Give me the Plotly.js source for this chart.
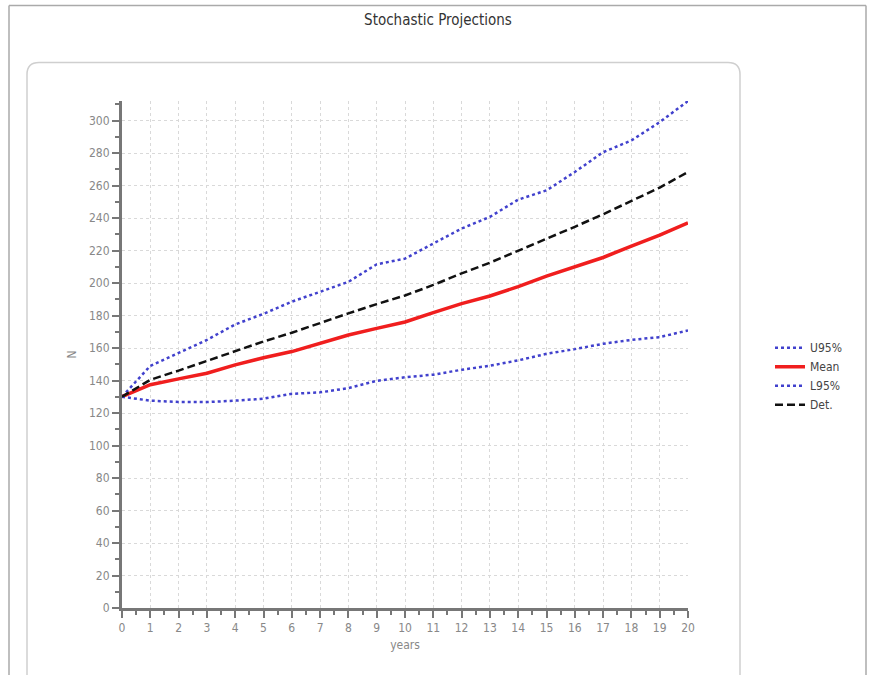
<!DOCTYPE html>
<html>
<head>
<meta charset="utf-8">
<script src="https://cdn.plot.ly/plotly-3.0.1.min.js"></script>
<style>
html,body{margin:0;padding:0;background:#fff;}
#chart{width:872px;height:675px;}
</style>
</head>
<body>
<div id="chart"></div>
<script>
var years = [0,1,2,3,4,5,6,7,8,9,10,11,12,13,14,15,16,17,18,19,20];
var u95  = [130,149,157,165,174.5,181,188.5,194.5,200.7,211.5,215,224.3,233.5,240.7,251.3,257,268.3,280.5,287.7,299,312];
var mean = [130,137.4,141,144.5,149.6,154,157.8,162.8,168,172.1,176,181.8,187.3,192,197.8,204.2,210,215.7,222.7,229.4,237];
var l95  = [130,127.6,126.8,126.7,127.6,128.8,131.8,132.7,135.3,139.8,142,143.6,146.6,149.1,152.4,156.4,159.3,162.6,165,166.7,170.8];
var det  = [130,140.4,146.1,152,158.3,164,169.4,175.5,181.3,187,192.3,198.8,205.9,212.5,219.8,227.3,234.6,242.3,250.3,258.7,268.3];

var FONT = '"DejaVu Sans Condensed", "Liberation Sans Narrow", "Open Sans", sans-serif';
var W = 872, H = 675;
var L = 122, R = 688, T = 100.5, B = 608;
function px(x){ return (x - L) / (R - L); }
function py(y){ return (B - y) / (B - T); }

var blue = 'rgb(65,65,205)';
var traces = [
  {x: years, y: u95, name: 'U95%', mode: 'lines', line: {color: blue, width: 2.5, dash: 'dot'}},
  {x: years, y: mean, name: 'Mean', mode: 'lines', line: {color: 'rgb(240,30,30)', width: 3.5}},
  {x: years, y: l95, name: 'L95%', mode: 'lines', line: {color: blue, width: 2.5, dash: 'dot'}},
  {x: years, y: det, name: 'Det.', mode: 'lines', line: {color: '#111', width: 2.5, dash: '8px,4px'}}
];

var bx0 = 27, by0 = 62, bx1 = 740, by1 = 700, r = 12;
var boxPath = 'M ' + px(bx0) + ',' + py(by1) +
  ' L ' + px(bx0) + ',' + py(by0 + r) +
  ' Q ' + px(bx0) + ',' + py(by0) + ' ' + px(bx0 + r) + ',' + py(by0) +
  ' L ' + px(bx1 - r) + ',' + py(by0) +
  ' Q ' + px(bx1) + ',' + py(by0) + ' ' + px(bx1) + ',' + py(by0 + r) +
  ' L ' + px(bx1) + ',' + py(by1);

var layout = {
  width: W, height: H,
  margin: {l: L, r: W - R, t: T, b: H - B},
  paper_bgcolor: 'rgba(0,0,0,0)',
  plot_bgcolor: 'rgba(0,0,0,0)',
  font: {family: FONT, size: 12, color: '#888'},
  showlegend: true,
  title: {text: 'Stochastic Projections', font: {family: FONT, size: 15, color: '#333'},
          xref: 'container', yref: 'container', x: 438/W, y: 1 - 20/H, xanchor: 'center', yanchor: 'middle'},
  xaxis: {
    range: [0, 20], dtick: 1, tick0: 0,
    showline: true, linecolor: '#777', linewidth: 3,
    ticks: 'outside', ticklen: 7, tickwidth: 2, tickcolor: '#777',
    minor: {dtick: 0.5, ticks: 'outside', ticklen: 4, tickwidth: 2, tickcolor: '#777', showgrid: false},
    showgrid: true, gridcolor: '#d9d9d9', gridwidth: 1, griddash: '3px,3px',
    zeroline: false,
    tickfont: {family: FONT, size: 12, color: '#888'},
    title: {text: 'years', font: {family: FONT, size: 12, color: '#888'}, standoff: 7}
  },
  yaxis: {
    range: [0, 312], dtick: 20, tick0: 0,
    showline: true, linecolor: '#777', linewidth: 3,
    ticks: 'outside', ticklen: 7, tickwidth: 2, tickcolor: '#777',
    minor: {dtick: 10, ticks: 'outside', ticklen: 4, tickwidth: 2, tickcolor: '#777', showgrid: false},
    showgrid: true, gridcolor: '#d9d9d9', gridwidth: 1, griddash: '3px,3px',
    zeroline: false,
    tickfont: {family: FONT, size: 12, color: '#888'},
    title: {text: 'N', font: {family: FONT, size: 12, color: '#888'}, standoff: 10}
  },
  legend: {
    x: px(770), y: py(333), xanchor: 'left', yanchor: 'top',
    font: {family: FONT, size: 12, color: '#444'},
    bgcolor: 'rgba(0,0,0,0)', borderwidth: 0, tracegroupgap: 0
  },
  shapes: [
    {type: 'path', xref: 'paper', yref: 'paper', path: boxPath, line: {color: '#cfcfcf', width: 1.5}, layer: 'below'},
    {type: 'line', xref: 'paper', yref: 'paper', x0: px(9), x1: px(866), y0: py(5), y1: py(5), line: {color: '#aaa', width: 1.5}, layer: 'below'},
    {type: 'line', xref: 'paper', yref: 'paper', x0: px(866), x1: px(866), y0: py(5), y1: py(700), line: {color: '#aaa', width: 1.5}, layer: 'below'},
    {type: 'line', xref: 'paper', yref: 'paper', x0: px(9), x1: px(9), y0: py(5), y1: py(700), line: {color: '#aaa', width: 1.5}, layer: 'below'}
  ]
};

Plotly.newPlot('chart', traces, layout, {displayModeBar: false, staticPlot: true});
</script>
</body>
</html>
